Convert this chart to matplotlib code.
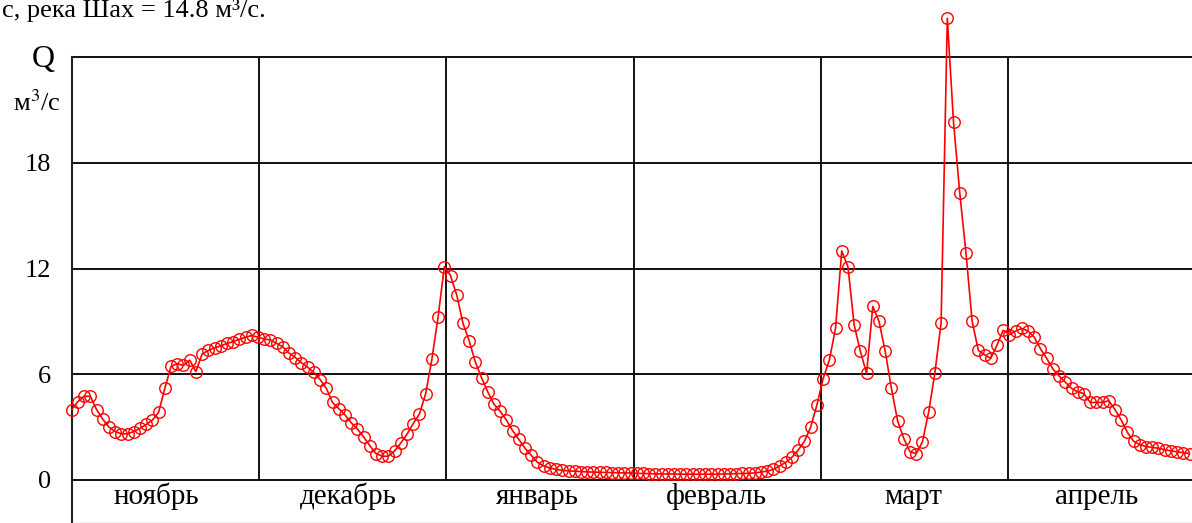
import numpy as np
import matplotlib
matplotlib.use("Agg")
import matplotlib.pyplot as plt

plt.rcParams['font.family'] = ['Liberation Serif', 'DejaVu Serif']
plt.rcParams['mathtext.fontset'] = 'stix'

# Daily discharge Q (m3/s), month by month
q_nov = [4.0, 4.45, 4.75, 4.75, 4.0, 3.45, 3.0, 2.75, 2.62, 2.62, 2.75, 2.93, 3.15, 3.4, 3.85,
         5.2, 6.45, 6.6, 6.5, 6.8, 6.15, 7.15, 7.35, 7.5, 7.6, 7.75, 7.85, 7.98, 8.1, 8.2]
q_dec = [8.1, 8.0, 7.95, 7.75, 7.55, 7.2, 6.95, 6.65, 6.4, 6.1, 5.7, 5.2, 4.4, 4.05, 3.7,
         3.25, 2.9, 2.45, 1.95, 1.5, 1.35, 1.35, 1.65, 2.1, 2.6, 3.2, 3.75, 4.9, 6.85, 9.25]
q_jan = [12.1, 11.6, 10.5, 8.9, 7.9, 6.7, 5.8, 5.0, 4.3, 3.9, 3.4, 2.8, 2.3, 1.8, 1.4,
         1.0, 0.8, 0.68, 0.6, 0.55, 0.52, 0.5, 0.48, 0.46, 0.45, 0.44, 0.43, 0.42, 0.41, 0.4]
q_feb = [0.4, 0.38, 0.37, 0.36, 0.35, 0.35, 0.34, 0.34, 0.33, 0.33, 0.33, 0.33, 0.33, 0.33, 0.33,
         0.34, 0.35, 0.36, 0.37, 0.38, 0.4, 0.45, 0.5, 0.6, 0.8, 1.0, 1.3, 1.7, 2.2, 3.0]
q_mar = [4.25, 5.75, 6.8, 8.6, 13.0, 12.1, 8.8, 7.3, 6.05, 9.85, 9.0, 7.3, 5.2, 3.35, 2.35,
         1.6, 1.5, 2.17, 3.87, 6.08, 8.92, 26.2, 20.3, 16.3, 12.9, 9.0, 7.35, 7.1, 6.9, 7.65]
q_apr = [8.5, 8.25, 8.45, 8.6, 8.45, 8.1, 7.45, 6.9, 6.3, 5.9, 5.55, 5.2, 5.0, 4.9, 4.4,
         4.4, 4.4, 4.5, 4.0, 3.4, 2.7, 2.2, 2.0, 1.9, 1.85, 1.8, 1.72, 1.65, 1.6, 1.55, 1.5]

months = ['ноябрь', 'декабрь', 'январь', 'февраль', 'март', 'апрель']
y_ticks = [0, 6, 12, 18]
y_grid = [0, 6, 12, 18, 24]

q = np.array(q_nov + q_dec + q_jan + q_feb + q_mar + q_apr)
days = np.arange(len(q))
n_months = len(months)
month_len = len(q) / n_months

W, H = 1192, 523
fig = plt.figure(figsize=(W / 100, H / 100), dpi=100)
ax = fig.add_axes([71.7 / W, 0.0, 1 - 71.7 / W, (H - 57) / H])

xmax = (W - 71.7) / 6.21
ymin = -(523 - 480) / (423.0 / 24)
ax.set_xlim(0, xmax)
ax.set_ylim(ymin, 24)

for s in ['top', 'right']:
    ax.spines[s].set_visible(False)
ax.spines['left'].set_linewidth(1.5)
ax.spines['left'].set_color('#222222')
ax.spines['bottom'].set_color('#bbbbbb')
ax.spines['bottom'].set_linewidth(1.0)

for yv in y_grid:
    ax.axhline(yv, color='#111111', lw=1.4, zorder=1, clip_on=False)
for k in range(1, n_months):
    ax.vlines(k * month_len, 0, 24, color='#111111', lw=1.4, zorder=1)

ax.plot(days, q, color='red', lw=1.2, marker='o', markersize=8.3,
        markerfacecolor='none', markeredgecolor='red', markeredgewidth=1.0,
        clip_on=False, zorder=3)

ax.set_xticks([])
ax.set_yticks(y_ticks)
ax.set_yticklabels([str(v) for v in y_ticks], fontsize=19)
ax.tick_params(axis='y', length=0, pad=15)

label_shift = [-1.5, -0.7, -0.4, -1.7, -0.3, -0.8]
for k, m in enumerate(months):
    ax.text((k + 0.5) * month_len + label_shift[k], -0.95, m,
            ha='center', va='center', fontsize=21)

fig.text(43 / W, 1 - 60 / H, 'Q', ha='center', va='center', fontsize=23)
fig.text(37 / W, 1 - 103 / H, 'м$^{3}$/с', ha='center', va='center', fontsize=19)
fig.text(2 / W, 1 - 17 / H, 'с, река Шах = 14.8 м³/с.', ha='left', va='baseline', fontsize=19)

fig.savefig('out.png', dpi=100)
